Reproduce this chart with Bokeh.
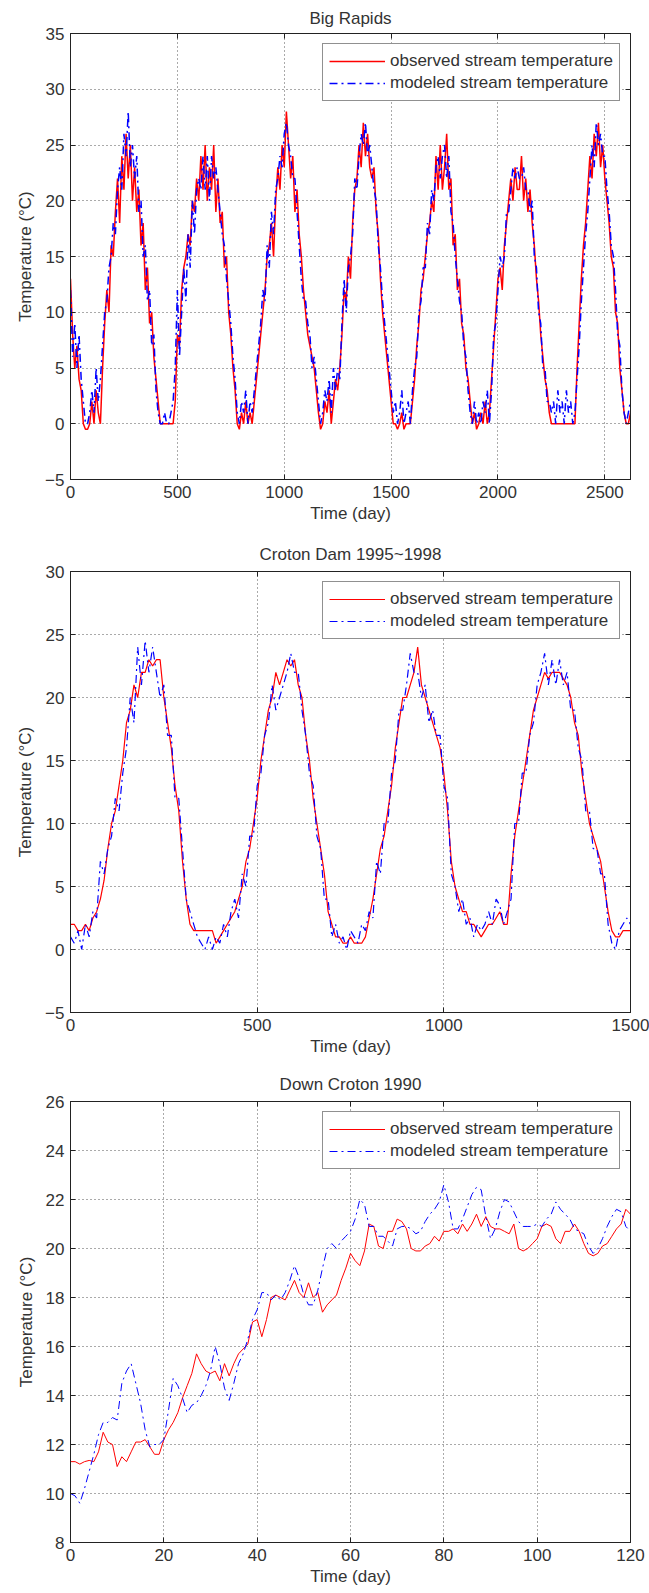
from bokeh.plotting import figure
from bokeh.models import (LinearAxis, FixedTicker, Legend, LegendItem,
                          CustomJSTickFormatter, Range1d)
from bokeh.layouts import column
from bokeh.embed import file_html
from bokeh.resources import INLINE

# ---------------- data ----------------
LEGEND_OBS = "observed stream temperature"
LEGEND_MOD = "modeled stream temperature"
Y_LABEL = "Temperature (\u00b0C)"
X_LABEL = "Time (day)"

# Panel 1: Big Rapids (values every 10 days, day 0..2620)
title1 = "Big Rapids"
day1 = list(range(0, 2630, 10))
obs1 = [
    13, 8, 5, 7, 4, 3, 0, -0.5, -0.5, 0,
    2, 0, 3, 1, 0, 5, 9, 12, 10, 16,
    15, 19, 22, 18, 24, 21, 26, 22, 25, 20,
    23, 19, 21, 16, 18, 12, 14, 9, 10, 6,
    4, 2, 0, 0, 0, 0, 0, 0, 0, 2,
    8, 7, 12, 14, 15, 17, 16, 20, 19, 22,
    20, 24, 21, 25, 20, 23, 21, 25, 19, 22,
    18, 19, 14, 15, 10, 8, 5, 3, 0, -0.5,
    1, 0, 2, 0, 1, 0, 2, 4, 6, 8,
    10, 12, 15, 16, 18, 15, 20, 23, 21, 25,
    23, 28, 25, 22, 24, 19, 21, 17, 15, 12,
    10, 8, 7, 6, 5, 3, 1, -0.5, 0, 2,
    1, 3, 0, 2, 4, 3, 5, 8, 12, 11,
    15, 13, 18, 21, 22, 25, 23, 27, 24, 26,
    23, 22, 23, 19, 17, 13, 10, 8, 6, 4,
    2, 0, 0, -0.5, 0, 1, -0.5, 0, 0, 0,
    2, 4, 7, 9, 12, 13, 15, 17, 18, 20,
    19, 24, 21, 25, 21, 23, 26, 21, 22, 16,
    17, 12, 13, 9, 8, 5, 4, 2, 0, 1,
    -0.5, 0, 1, 0, 2, 0, 1, 4, 7, 10,
    13, 14, 12, 16, 18, 20, 22, 20, 23, 21,
    21, 24, 20, 22, 19, 21, 18, 16, 13, 11,
    8, 6, 4, 3, 1, 0, 0, 0, 0, 0,
    0, 0, 0, 0, 0, 0, 0, 5, 9, 13,
    16, 18, 21, 24, 22, 26, 24, 27, 23, 25,
    22, 20, 18, 15, 14, 10, 9, 5, 3, 1,
    0, 0, 1,
]
mod1 = [
    12, 6, 9, 5, 8, 4, 2, 0, 0, 1,
    3, 1, 5, 2, 4, 7, 10, 11, 14, 15,
    18, 17, 21, 23, 21, 26, 24, 28, 23, 25,
    22, 24, 19, 20, 15, 16, 11, 12, 7, 8,
    3, 1, 0, 0, 1, 0, 0, 1, 2, 5,
    12, 6, 10, 14, 11, 17, 14, 20, 17, 21,
    22, 21, 24, 21, 24, 20, 24, 22, 23, 21,
    19, 17, 16, 13, 11, 9, 6, 4, 1, 0,
    2, 1, 3, 0, 2, 1, 3, 5, 7, 9,
    12, 11, 16, 14, 19, 17, 21, 22, 24, 23,
    26, 27, 25, 24, 22, 22, 19, 16, 13, 11,
    11, 9, 8, 5, 6, 4, 2, 0, 1, 3,
    2, 4, 1, 5, 3, 5, 4, 9, 13, 10,
    14, 15, 17, 22, 21, 24, 26, 25, 27, 24,
    25, 23, 21, 20, 16, 14, 11, 9, 7, 5,
    3, 1, 2, 0, 1, 3, 0, 1, 2, 0,
    3, 5, 6, 10, 11, 14, 14, 18, 17, 21,
    20, 23, 24, 22, 24, 25, 22, 24, 19, 18,
    15, 13, 11, 10, 7, 6, 3, 1, 0, 2,
    0, 1, 0, 2, 1, 3, 0, 3, 8, 9,
    12, 15, 14, 15, 19, 19, 21, 23, 22, 23,
    22, 22, 23, 21, 21, 19, 20, 15, 14, 10,
    9, 5, 5, 2, 2, 1, 2, 0, 3, 1,
    2, 0, 3, 1, 2, 0, 1, 4, 7, 11,
    14, 17, 19, 22, 25, 23, 27, 25, 26, 24,
    24, 21, 19, 16, 15, 12, 8, 7, 3, 1,
    0, 1, 2,
]
xticks1 = [0, 500, 1000, 1500, 2000, 2500]
yticks1 = [-5, 0, 5, 10, 15, 20, 25, 30, 35]

# Panel 2: Croton Dam 1995~1998 (values every 10 days, day 0..1500)
title2 = "Croton Dam 1995~1998"
day2 = list(range(0, 1510, 10))
obs2 = [
    2, 2, 1.5, 1.5, 2, 1.5, 2.5, 3, 4, 5.5,
    8, 10, 11, 13, 15, 18, 19, 21, 20, 22,
    22, 23, 22.5, 23, 23, 20, 18, 16, 13, 11,
    7, 4, 2, 1.5, 1.5, 1.5, 1.5, 1.5, 1.5, 0.5,
    1, 1.5, 2, 2.5, 3, 4, 5, 7, 8, 10,
    12, 15, 17, 19, 20, 22, 21, 22, 23, 22.5,
    23, 21, 20, 17, 15, 12, 10, 8, 6, 3,
    2, 1, 1, 0.5, 0.5, 1, 0.5, 0.5, 0.5, 1,
    2.5, 4, 6, 8, 9, 11, 13, 16, 18, 20,
    20, 21, 22, 24, 21, 20, 19, 18, 17, 16,
    14, 11, 7, 5, 4, 3, 3, 2, 2, 1.5,
    1, 1.5, 2, 2, 2.5, 3, 2, 2, 6, 9,
    11, 13, 15, 17, 19, 20, 21, 22, 21.5, 22,
    22, 22, 21.5, 21, 20, 18, 17, 14, 12, 10,
    9, 8, 7, 5, 3, 1.5, 1, 1, 1.5, 1.5,
    1.5,
]
mod2 = [
    1, 0.5, 1.5, 0, 2, 1, 3, 2.5, 7, 6,
    8, 9, 12, 11, 14, 16, 20, 18, 24, 21,
    24.5, 22, 24, 22, 20, 21, 17, 17, 12, 12,
    8, 4, 3, 2, 1, 0.5, 0, 1, 0, 1,
    0.5, 2, 1, 3, 4, 2.5, 6, 5, 9, 9,
    13, 14, 17, 18, 21, 19, 20, 21, 22, 23.5,
    22, 22, 19, 17, 14, 13, 9, 8, 4, 4,
    1, 2, 0.5, 1, 0, 1.5, 1, 0.5, 2, 1.5,
    3, 2.5, 7, 6, 10, 10, 14, 15, 19, 19,
    21, 23.5, 22, 22, 20, 21, 18, 19, 17, 17,
    13, 12, 6, 5, 3, 4, 2, 2.5, 1, 2,
    1.5, 2, 3, 2, 4, 3.5, 2, 3, 4, 10,
    10, 14, 14, 17, 18, 21, 22, 23.5, 21, 23,
    21, 23, 21, 22, 19, 19, 16, 15, 11, 11,
    8, 8, 6, 6, 2, 0.5, 0, 1.5, 2, 2.5,
    2,
]
xticks2 = [0, 500, 1000, 1500]
yticks2 = [-5, 0, 5, 10, 15, 20, 25, 30]

# Panel 3: Down Croton 1990 (daily, day 0..120)
title3 = "Down Croton 1990"
day3 = list(range(0, 121))
obs3 = [
    11.3, 11.3, 11.2, 11.3, 11.35, 11.3, 11.7, 12.5, 12.1, 12.0,
    11.1, 11.5, 11.3, 11.7, 12.1, 12.1, 12.2, 11.9, 11.6, 11.6,
    12.2, 12.6, 12.9, 13.3, 13.9, 14.4, 14.9, 15.7, 15.3, 15.0,
    14.9, 15.0, 14.6, 15.3, 14.8, 15.3, 15.7, 15.9, 16.1, 17.0,
    17.1, 16.4, 17.1, 18.0, 18.1, 18.0, 17.9, 18.3, 18.7, 18.2,
    18.0, 18.6, 18.0, 18.2, 17.4, 17.7, 17.9, 18.1, 18.7, 19.2,
    19.8, 19.5, 19.3, 19.9, 21.0, 20.9, 20.1, 20.0, 20.7, 20.7,
    21.2, 21.1, 20.8, 20.0, 19.9, 19.9, 20.1, 20.2, 20.5, 20.3,
    20.7, 20.7, 20.8, 20.6, 21.0, 20.7, 21.0, 21.4, 20.9, 21.3,
    20.9, 20.8, 20.8, 20.7, 20.6, 21.0, 20.0, 19.9, 20.0, 20.2,
    20.4, 20.9, 21.0, 20.9, 20.4, 20.2, 20.7, 20.7, 21.0, 20.7,
    20.2, 19.8, 19.7, 19.8, 20.1, 20.2, 20.5, 20.8, 21.0, 21.6,
    21.4,
]
mod3 = [
    10.0, 9.9, 9.6, 10.2, 10.9, 11.6, 12.4, 12.9, 12.9, 13.1,
    13.0, 14.5, 15.0, 15.3, 14.5, 13.7, 12.6, 11.9, 12.0, 12.0,
    12.2, 13.4, 14.7, 14.4, 13.9, 13.3, 13.6, 13.7, 14.0, 14.4,
    15.0, 16.0, 15.3, 14.3, 13.8, 14.5, 15.3, 15.7, 16.3, 17.1,
    17.5, 18.2, 18.2, 17.9, 18.1, 17.9, 18.2, 18.7, 19.3, 18.8,
    18.1, 17.7, 17.7, 18.3, 19.2, 20.0, 20.2, 20.0, 20.3, 20.5,
    20.7, 21.2, 22.0, 21.8, 20.9, 20.9, 20.5, 20.5, 20.3, 20.1,
    20.8, 20.9, 20.9, 20.8, 20.6, 20.7, 21.1, 21.4, 21.6, 21.9,
    22.6, 21.9, 20.8, 20.8, 21.2, 21.7, 22.2, 22.5, 22.4, 21.3,
    20.4, 20.8, 21.5, 22.0, 21.9, 21.5, 21.1, 20.9, 20.9, 20.9,
    21.0, 20.9, 21.2, 21.4, 21.9, 21.6, 21.4, 21.2, 20.8, 20.7,
    20.6, 20.1, 19.8, 20.0, 20.4, 20.9, 21.3, 21.6, 21.5, 20.9,
    20.7,
]
xticks3 = [0, 20, 40, 60, 80, 100, 120]
yticks3 = [8, 10, 12, 14, 16, 18, 20, 22, 24, 26]

# ---------------- styling ----------------
FONT = "Liberation Sans"
TXT = "#333333"
AX = "#222222"
FS = "17px"


def style_axis(ax, ticks):
    ax.ticker = FixedTicker(ticks=ticks)
    ax.major_tick_in = 5
    ax.major_tick_out = 0
    ax.minor_tick_in = 0
    ax.minor_tick_out = 0
    ax.axis_line_color = AX
    ax.major_tick_line_color = AX
    ax.major_label_text_font = FONT
    ax.major_label_text_font_size = FS
    ax.major_label_text_color = TXT
    ax.axis_label_text_font = FONT
    ax.axis_label_text_font_size = FS
    ax.axis_label_text_color = TXT
    ax.axis_label_text_font_style = "normal"


def make_panel(title, x, obs, mod, xr, yr, xticks, yticks, height,
               left, right, top, bottom, lw, title_standoff):
    p = figure(width=649, height=height, x_range=Range1d(*xr),
               y_range=Range1d(*yr), output_backend="svg",
               toolbar_location=None, min_border_left=left,
               min_border_right=right, min_border_top=top,
               min_border_bottom=bottom)
    p.background_fill_color = "white"
    p.border_fill_color = "white"
    p.outline_line_color = AX
    p.outline_line_width = 1

    p.title.text = title
    p.title.align = "center"
    p.title.text_font = FONT
    p.title.text_font_size = FS
    p.title.text_font_style = "normal"
    p.title.text_color = TXT
    p.title.standoff = title_standoff

    style_axis(p.xaxis[0], xticks)
    style_axis(p.yaxis[0], yticks)
    p.xaxis[0].axis_label = X_LABEL
    p.yaxis[0].axis_label = Y_LABEL
    p.xaxis[0].major_label_standoff = 6
    p.xaxis[0].axis_label_standoff = 3
    p.yaxis[0].major_label_standoff = 6
    p.yaxis[0].axis_label_standoff = 7

    blank = CustomJSTickFormatter(code="return ''")
    top_ax = LinearAxis(formatter=blank, major_label_standoff=0)
    style_axis(top_ax, xticks)
    right_ax = LinearAxis(formatter=blank, major_label_standoff=0)
    style_axis(right_ax, yticks)
    p.add_layout(top_ax, "above")
    p.add_layout(right_ax, "right")

    for g in (p.xgrid[0], p.ygrid[0]):
        g.grid_line_color = "#444444"
        g.grid_line_dash = "1 3"
        g.grid_line_width = 1
        g.grid_line_alpha = 0.9
    p.xgrid[0].ticker = FixedTicker(ticks=xticks)
    p.ygrid[0].ticker = FixedTicker(ticks=yticks)

    r_obs = p.line(x, obs, line_color="#ff0000", line_width=lw)
    r_mod = p.line(x, mod, line_color="#0000ff", line_width=lw,
                   line_dash="8 4 2 4")

    leg = Legend(items=[LegendItem(label=LEGEND_OBS, renderers=[r_obs]),
                        LegendItem(label=LEGEND_MOD, renderers=[r_mod])],
                 location="top_right")
    leg.margin = 10
    leg.padding = 6
    leg.spacing = 0
    leg.glyph_width = 56
    leg.glyph_height = 22
    leg.label_height = 22
    leg.label_standoff = 5
    leg.label_text_font = FONT
    leg.label_text_font_size = FS
    leg.label_text_color = TXT
    leg.border_line_color = AX
    leg.border_line_width = 1
    leg.background_fill_color = "white"
    leg.background_fill_alpha = 1
    p.add_layout(leg, "center")
    return p


p1 = make_panel(title1, day1, obs1, mod1, (0, 2620), (-5, 35), xticks1,
                yticks1, 530, 68, 14, 33, 51, 1.5, 12)
p2 = make_panel(title2, day2, obs2, mod2, (0, 1500), (-5, 30), xticks2,
                yticks2, 533, 68, 19, 41, 51, 1.2, 16)
p3 = make_panel(title3, day3, obs3, mod3, (0, 120), (8, 26), xticks3,
                yticks3, 530, 70, 18, 38, 51, 1, 16)

layout = column(p1, p2, p3, spacing=0)
open("out.html", "w").write(file_html(layout, INLINE))
